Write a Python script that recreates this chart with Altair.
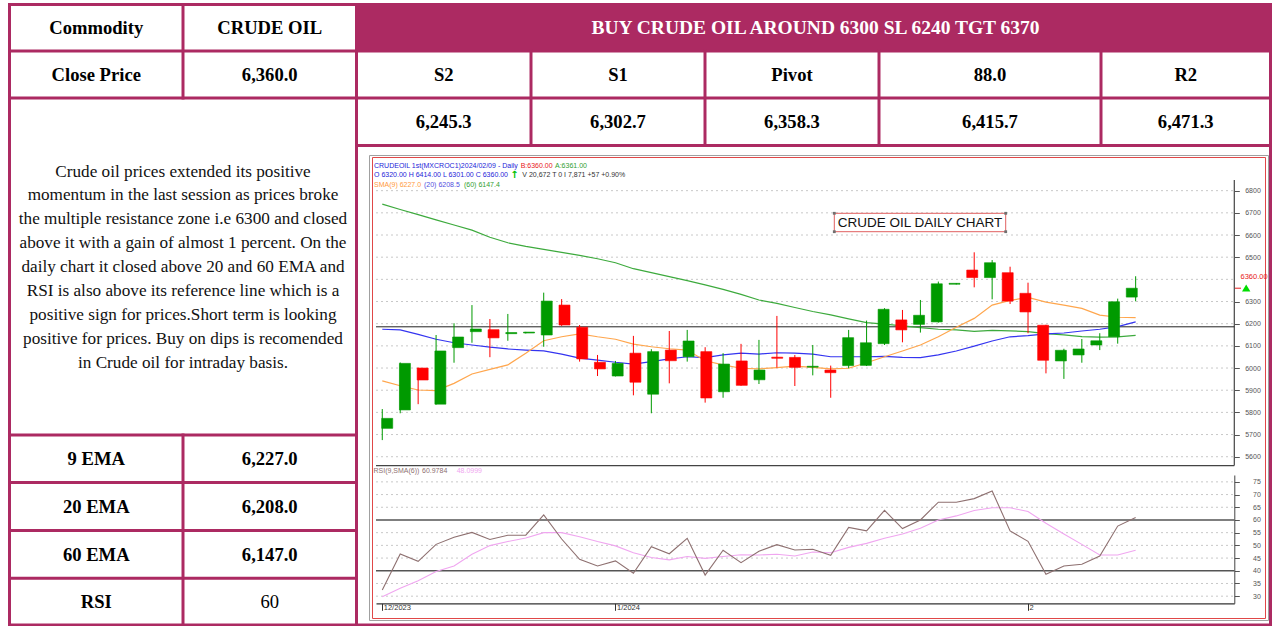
import altair as alt
import pandas as pd

W, H = 1272, 626
MAROON = "#AC2A62"
SERIF = "Liberation Serif"
SANS = "Liberation Sans"

# ---------------- table content ----------------
commodity = "CRUDE OIL"
close_price = "6,360.0"
headline = "BUY CRUDE OIL AROUND 6300 SL 6240 TGT 6370"
level_names = ["S2", "S1", "Pivot", "88.0", "R2"]
level_values = ["6,245.3", "6,302.7", "6,358.3", "6,415.7", "6,471.3"]
ind_names = ["9 EMA", "20 EMA", "60 EMA", "RSI"]
ind_values = ["6,227.0", "6,208.0", "6,147.0", "60"]
commentary = [
    "Crude oil prices extended its positive",
    "momentum in the last session as prices broke",
    "the multiple resistance zone i.e 6300 and closed",
    "above it with a gain of almost 1 percent. On the",
    "daily chart it closed above 20 and 60 EMA and",
    "RSI is also above its reference line which is a",
    "positive sign for prices.Short term is looking",
    "positive for prices. Buy on dips is recomended",
    "in Crude oil for intraday basis.",
]

# ---------------- chart data (daily candles, index 0..42) ----------------
opens = [5728, 5811, 6000, 5837, 6092, 6164, 6173, 6155, 6158, 6149, 6284, 6184, 6026, 5964, 6067,
         5882, 6081, 6051, 6074, 5893, 6032, 5947, 6049, 6048, 6004, 5991, 6011, 6012, 6110, 6217,
         6197, 6208, 6378, 6442, 6408, 6430, 6337, 6193, 6032, 6059, 6104, 6141, 6320]
highs = [5815, 6025, 6002, 6149, 6202, 6284, 6221, 6244, 6163, 6340, 6311, 6194, 6059, 6032, 6145,
         6085, 6167, 6172, 6094, 6067, 6109, 6127, 6235, 6059, 6104, 6011, 6172, 6214, 6270, 6262,
         6307, 6390, 6383, 6522, 6487, 6457, 6385, 6195, 6087, 6131, 6157, 6313, 6414]
lows = [5675, 5796, 5837, 5835, 6024, 6114, 6049, 6123, 6156, 6096, 6190, 6029, 5964, 5962, 5877,
        5796, 5931, 6029, 5844, 5866, 5920, 5928, 6002, 5919, 5967, 5866, 5999, 6009, 6104, 6116,
        6160, 6205, 6377, 6364, 6310, 6289, 6157, 5976, 5951, 6024, 6081, 6110, 6301]
closes = [5773, 6021, 5946, 6077, 6140, 6176, 6136, 6160, 6162, 6302, 6194, 6041, 5996, 6021, 5936,
          6074, 6033, 6122, 5865, 6018, 5922, 5991, 6044, 6003, 6008, 5979, 6137, 6114, 6265, 6172,
          6238, 6380, 6382, 6408, 6475, 6302, 6253, 6035, 6080, 6086, 6123, 6299, 6360]
ma9 = [5942, 5920, 5901, 5898, 5931, 5973, 5994, 6014, 6067, 6123, 6141, 6154, 6141, 6130, 6108,
       6096, 6087, 6081, 6033, 6014, 5999, 5996, 6002, 6009, 6003, 5996, 5999, 6024, 6051, 6077,
       6104, 6141, 6184, 6224, 6284, 6305, 6319, 6297, 6284, 6269, 6239, 6229, 6227]
ma20 = [6175, 6172, 6152, 6130, 6114, 6104, 6094, 6086, 6081, 6077, 6063, 6045, 6036, 6026, 6018,
        6029, 6041, 6051, 6047, 6059, 6067, 6063, 6069, 6067, 6063, 6051, 6051, 6051, 6053, 6048,
        6047, 6059, 6077, 6099, 6122, 6141, 6146, 6154, 6158, 6167, 6175, 6187, 6208]
ma60 = [6739, 6715, 6692, 6668, 6645, 6622, 6590, 6565, 6549, 6535, 6522, 6508, 6493, 6475, 6448,
        6430, 6412, 6394, 6375, 6355, 6332, 6307, 6292, 6273, 6255, 6240, 6222, 6205, 6198, 6190,
        6182, 6175, 6172, 6165, 6170, 6168, 6164, 6155, 6150, 6142, 6139, 6141, 6147]
rsi = [32.4, 46.6, 43.7, 50.4, 53.2, 55.1, 52.3, 54.0, 54.0, 62.0, 52.5, 44.5, 41.9, 43.9, 39.0,
       49.5, 46.7, 52.8, 38.3, 48.1, 43.2, 47.7, 50.3, 48.2, 48.5, 46.1, 57.1, 55.7, 63.8, 56.6,
       60.0, 67.0, 67.0, 68.4, 71.4, 55.7, 51.6, 38.6, 41.9, 42.6, 45.8, 57.6, 60.98]
rsi_sma = [29.8, 33.1, 36.1, 39.7, 41.9, 46.5, 49.9, 51.5, 52.9, 55.0, 55.0, 53.4, 51.5, 49.8, 47.1,
           45.2, 44.3, 45.6, 44.9, 45.6, 46.3, 46.2, 46.5, 45.8, 47.4, 47.1, 49.2, 50.8, 52.8, 54.5,
           56.7, 60.0, 61.6, 63.7, 64.8, 64.8, 63.3, 58.7, 54.5, 50.4, 46.2, 46.2, 48.1]
month_tick_idx = [0, 13, 36]
month_labels = ["12/2023", "1/2024", "2"]
price_ticks = [5600, 5700, 5800, 5900, 6000, 6100, 6200, 6300, 6500, 6600, 6700, 6800]
price_grid = [5600, 5700, 5800, 5900, 6000, 6100, 6200, 6300, 6400, 6500, 6600, 6700, 6800]
rsi_ticks = [30, 35, 40, 45, 50, 55, 60, 65, 70, 75]
rsi_grid = [30, 35, 45, 50, 55, 65, 70, 75]
rsi_levels = [40, 60]
drawn_line = [6186]
last_price = [6360]

# ---------------- layout (pixels) ----------------
X_LO, X_HI = -0.35, 47.5
PX_RANGE = [376, 1234.3]
PRICE_DOM, PRICE_RANGE = [5560, 6950], [465.6, 157.4]
RSI_DOM, RSI_RANGE = [27.2, 77.7], [603.3, 475.0]
AXIS_OFF_R = 1234.3 - W
AXIS_OFF_B = 603.3 - H

LX = [9.5, 183, 356.5]
RX = [356.5, 531, 705, 879, 1101, 1270.5]
RY = [4.5, 51, 98, 145.5]
LROWS = [435, 482.5, 530.5, 578.3, 625]


def cxs():
    return alt.Scale(domain=[0, W], range=[0, W], zero=False, nice=False)


def cys():
    return alt.Scale(domain=[0, H], range=[0, H], zero=False, nice=False)


def pxs():
    return alt.Scale(domain=[X_LO, X_HI], range=PX_RANGE, zero=False, nice=False)


def pys():
    return alt.Scale(domain=PRICE_DOM, range=PRICE_RANGE, zero=False, nice=False)


def rys():
    return alt.Scale(domain=RSI_DOM, range=RSI_RANGE, zero=False, nice=False)


layers = []

# header band
band = pd.DataFrame({"x": [RX[0]], "x2": [RX[-1]], "y": [RY[0]], "y2": [RY[1]]})
layers.append(alt.Chart(band).mark_rect(color=MAROON).encode(
    x=alt.X("x:Q", scale=cxs(), axis=None), x2="x2", y=alt.Y("y:Q", scale=cys(), axis=None), y2="y2"))

# chart frames
frames = pd.DataFrame({"x": [369.5], "x2": [1268.5], "y": [155.5], "y2": [620.5]})
layers.append(alt.Chart(frames).mark_rect(fill="transparent", stroke="#A0A0A0", strokeWidth=1).encode(
    x=alt.X("x:Q", scale=cxs(), axis=None), x2="x2", y=alt.Y("y:Q", scale=cys(), axis=None), y2="y2"))
frames2 = pd.DataFrame({"x": [372.5], "x2": [1265.5], "y": [157.5], "y2": [618.5]})
layers.append(alt.Chart(frames2).mark_rect(fill="transparent", stroke="#E04848", strokeWidth=1).encode(
    x=alt.X("x:Q", scale=cxs(), axis=None), x2="x2", y=alt.Y("y:Q", scale=cys(), axis=None), y2="y2"))

# table borders
segs = []
for y in [RY[0], RY[1], RY[2], LROWS[-1]]:
    segs.append((LX[0], RX[-1], y, y))
segs.append((RX[0], RX[-1], RY[3], RY[3]))
for y in LROWS[:-1]:
    segs.append((LX[0], LX[2], y, y))
for x in [LX[0], LX[2], RX[-1]]:
    segs.append((x, x, RY[0], LROWS[-1]))
segs.append((LX[1], LX[1], RY[0], RY[2]))
segs.append((LX[1], LX[1], LROWS[0], LROWS[-1]))
for x in RX[1:-1]:
    segs.append((x, x, RY[1], RY[3]))
seg_df = pd.DataFrame(segs, columns=["x", "x2", "y", "y2"])
layers.append(alt.Chart(seg_df).mark_rule(color=MAROON, strokeWidth=3, strokeCap="square").encode(
    x=alt.X("x:Q", scale=cxs(), axis=None), x2="x2", y=alt.Y("y:Q", scale=cys(), axis=None), y2="y2"))


def text_layer(rows, size, color, weight="normal", align="center", font=SERIF):
    df = pd.DataFrame(rows, columns=["x", "y", "t"])
    return alt.Chart(df).mark_text(fontSize=size, color=color, fontWeight=weight, align=align,
                                   baseline="middle", font=font).encode(
        x=alt.X("x:Q", scale=cxs(), axis=None), y=alt.Y("y:Q", scale=cys(), axis=None), text="t:N")


c1 = (LX[0] + LX[1]) / 2
c2 = (LX[1] + LX[2]) / 2
rc = [(RX[k] + RX[k + 1]) / 2 for k in range(5)]
r1 = (RY[0] + RY[1]) / 2 + 0.5
r2 = (RY[1] + RY[2]) / 2 + 0.5
r3 = (RY[2] + RY[3]) / 2 + 0.5
bold_rows = [(c1, r1, "Commodity"), (c2, r1, commodity), (c1, r2, "Close Price"), (c2, r2, close_price)]
for k in range(5):
    bold_rows.append((rc[k], r2, level_names[k]))
    bold_rows.append((rc[k], r3, level_values[k]))
for k in range(4):
    yy = (LROWS[k] + LROWS[k + 1]) / 2 + 0.5
    bold_rows.append((c1, yy, ind_names[k]))
    if k < 3:
        bold_rows.append((c2, yy, ind_values[k]))
layers.append(text_layer(bold_rows, 18.6, "black", "bold"))
layers.append(text_layer([(c2, (LROWS[3] + LROWS[4]) / 2 + 0.5, ind_values[3])], 18.6, "black"))
layers.append(text_layer([((RX[0] + RX[-1]) / 2 + 2, r1, headline)], 19.5, "white", "bold"))
para = [((LX[0] + LX[2]) / 2, 171.5 + 23.9 * k, line) for k, line in enumerate(commentary)]
layers.append(text_layer(para, 17.2, "#111111"))

# ---------------- price panel ----------------
X = lambda f: alt.X(f, scale=pxs(), axis=None)
PY = lambda f, **kw: alt.Y(f, scale=pys(), **kw)

grid_df = pd.DataFrame({"level": price_grid, "x0": X_LO, "x1": X_HI})
layers.append(alt.Chart(grid_df).mark_rule(color="#C8C8C8", strokeDash=[2, 3], strokeWidth=1).encode(
    x=X("x0:Q"), x2="x1",
    y=PY("level:Q", axis=alt.Axis(orient="right", offset=AXIS_OFF_R, values=price_ticks, tickSize=5,
                                  tickColor="#555555", domain=False, grid=False, labelAlign="right",
                                  labelPadding=21, labelFontSize=7, labelColor="#555555", labelFont=SANS,
                                  labelBaseline="middle", labelFlush=False, labelOverlap=False,
                                  format="d", zindex=2, title=None))))

# panel frame lines
pframe = pd.DataFrame({"x0": [X_LO, X_HI], "x1": [X_HI, X_HI], "y0": [PRICE_DOM[0], PRICE_DOM[0]],
                       "y1": [PRICE_DOM[0], 6848]})
layers.append(alt.Chart(pframe).mark_rule(color="#444444", strokeWidth=1.2).encode(
    x=X("x0:Q"), x2="x1", y=PY("y0:Q", axis=None), y2="y1"))

hl_df = pd.DataFrame({"level": drawn_line, "x0": X_LO, "x1": X_HI})
layers.append(alt.Chart(hl_df).mark_rule(color="#222222", strokeWidth=1).encode(
    x=X("x0:Q"), x2="x1", y=PY("level:Q", axis=None)))

ma_df = pd.DataFrame({"i": list(range(len(ma9))), "ma9": ma9, "ma20": ma20, "ma60": ma60})
for col, colr in [("ma60", "#3DAA3D"), ("ma20", "#3434F0"), ("ma9", "#FFA64D")]:
    layers.append(alt.Chart(ma_df).mark_line(color=colr, strokeWidth=1.2).encode(
        x=X("i:Q"), y=PY(f"{col}:Q", axis=None)))

cdf = pd.DataFrame({"i": list(range(len(opens))), "open": opens, "high": highs, "low": lows, "close": closes})
for cond, colr in [("datum.close >= datum.open", "#009A00"), ("datum.close < datum.open", "#FF0000")]:
    layers.append(alt.Chart(cdf).transform_filter(cond).mark_rule(color=colr, strokeWidth=1).encode(
        x=X("i:Q"), y=PY("low:Q", axis=None), y2="high"))
    layers.append(alt.Chart(cdf).transform_filter(cond).mark_bar(
        size=11, color=colr, stroke=colr, strokeWidth=1, strokeOpacity=0.6).encode(
        x=X("i:Q"), y=PY("open:Q", axis=None), y2="close"))

# ---------------- RSI panel ----------------
RY_ = lambda f, **kw: alt.Y(f, scale=rys(), **kw)
label_expr = " : ".join(f"datum.value == {v} ? '{t}'" for v, t in zip(month_tick_idx, month_labels)) + " : ''"

rgrid_df = pd.DataFrame({"level": rsi_grid, "x0": X_LO, "x1": X_HI})
layers.append(alt.Chart(rgrid_df).mark_rule(color="#C8C8C8", strokeDash=[2, 3], strokeWidth=1).encode(
    x=X("x0:Q"), x2="x1",
    y=RY_("level:Q", axis=alt.Axis(orient="right", offset=AXIS_OFF_R, values=rsi_ticks, tickSize=5,
                                   tickColor="#555555", domain=True, domainColor="#444444", grid=False,
                                   labelAlign="right", labelPadding=21, labelFontSize=7,
                                   labelColor="#555555", labelFont=SANS, labelBaseline="middle",
                                   labelFlush=False, labelOverlap=False, zindex=2, title=None))))
rlev_df = pd.DataFrame({"level": rsi_levels, "x0": X_LO, "x1": X_HI})
layers.append(alt.Chart(rlev_df).mark_rule(color="#555555", strokeWidth=1.4).encode(
    x=X("x0:Q"), x2="x1", y=RY_("level:Q", axis=None)))

rsi_df = pd.DataFrame({"i": list(range(len(rsi))), "rsi": rsi, "sma": rsi_sma})
layers.append(alt.Chart(rsi_df).mark_line(color="#F0A6F0", strokeWidth=1.1).encode(
    x=X("i:Q"), y=RY_("sma:Q", axis=None)))
layers.append(alt.Chart(rsi_df).mark_line(color="#8E7070", strokeWidth=1.1).encode(
    x=alt.X("i:Q", scale=pxs(),
            axis=alt.Axis(orient="bottom", offset=AXIS_OFF_B, values=month_tick_idx, labelExpr=label_expr,
                          tickSize=7, tickColor="#333333", domain=True, domainColor="#333333",
                          domainWidth=1.2, grid=False, labelAlign="left", labelOffset=1,
                          labelBaseline="middle", labelPadding=-3, labelFontSize=7.5,
                          labelColor="#333333", labelFont=SANS, labelFlush=False, labelOverlap=False,
                          zindex=2, title=None)),
    y=RY_("rsi:Q", axis=None)))

# ---------------- chart annotations ----------------
layers.append(text_layer([(374, 165.7, "CRUDEOIL 1st(MXCROC1)2024/02/09"), (498, 165.7, "- Daily"),
                          (374, 175.3, "O 6320.00 H 6414.00 L 6301.00 C 6360.00")],
                         7, "#2424D8", align="left", font=SANS))
layers.append(text_layer([(520.7, 165.7, "B:6360.00")], 7, "#E82020", align="left", font=SANS))
layers.append(text_layer([(555, 165.7, "A:6361.00"), (464, 185.3, "(60) 6147.4")], 7, "#30A030",
                         align="left", font=SANS))
layers.append(text_layer([(522.3, 175.3, "V 20,672 T 0 I 7,871   +57   +0.90%")], 7, "#333333",
                         align="left", font=SANS))
layers.append(text_layer([(514.5, 175.3, "↑")], 10, "#00C000", "bold", font="DejaVu Sans"))
layers.append(text_layer([(374, 185.3, "SMA(9) 6227.0")], 7, "#FF9A40", align="left", font=SANS))
layers.append(text_layer([(424, 185.3, "(20) 6208.5")], 7, "#5050E0", align="left", font=SANS))
layers.append(text_layer([(373.5, 470.7, "RSI(9,SMA(6))"), (422, 470.7, "60.9784")], 7, "#8E7070",
                         align="left", font=SANS))
layers.append(text_layer([(456.7, 470.7, "48.0999")], 7, "#F0A6F0", align="left", font=SANS))

box = pd.DataFrame({"x": [834.3], "x2": [1005.7], "y": [213.3], "y2": [231.7]})
layers.append(alt.Chart(box).mark_rect(fill="white", stroke="#E06060", strokeWidth=1).encode(
    x=alt.X("x:Q", scale=cxs(), axis=None), x2="x2", y=alt.Y("y:Q", scale=cys(), axis=None), y2="y2"))
handles = pd.DataFrame({"x": [834.3, 1005.7, 834.3, 1005.7], "y": [213.3, 213.3, 231.7, 231.7]})
layers.append(alt.Chart(handles).mark_square(size=8, color="#707070", opacity=1).encode(
    x=alt.X("x:Q", scale=cxs(), axis=None), y=alt.Y("y:Q", scale=cys(), axis=None)))
layers.append(text_layer([(920, 222.8, "CRUDE OIL DAILY CHART")], 13.5, "#111111", font=SANS))

# last price marker
layers.append(text_layer([(1240.5, 276.5, "6360.00")], 7.5, "#E82020", align="left", font=SANS))
lp_df = pd.DataFrame({"level": last_price, "x0": [1235.0], "x1": [1241.0]})
layers.append(alt.Chart(lp_df).mark_rule(color="#E82020", strokeWidth=1).encode(
    x=alt.X("x0:Q", scale=cxs(), axis=None), x2="x1", y=PY("level:Q", axis=None)))
tri = pd.DataFrame({"x": [1246.2], "y": [288.0]})
layers.append(alt.Chart(tri).mark_point(shape="triangle-up", filled=True, size=70, color="#00DD00",
                                        opacity=1).encode(
    x=alt.X("x:Q", scale=cxs(), axis=None), y=alt.Y("y:Q", scale=cys(), axis=None)))

chart = alt.layer(*layers).resolve_scale(x="independent", y="independent").properties(
    width=W, height=H, padding=0, autosize=alt.AutoSizeParams(type="none"), background="white"
).configure_view(stroke="transparent")

chart.save("out.html", embed_options={"renderer": "svg", "actions": False})
